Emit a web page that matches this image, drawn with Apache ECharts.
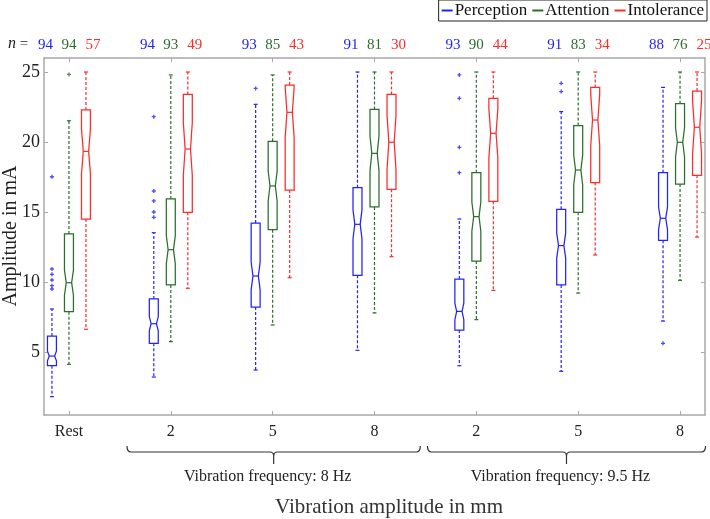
<!DOCTYPE html>
<html>
<head>
<meta charset="utf-8">
<script src="https://cdn.jsdelivr.net/npm/echarts@6/dist/echarts.min.js"></script>
<style>
  html, body { margin: 0; padding: 0; background: #fff; }
  #chart { width: 710px; height: 519px; }
</style>
</head>
<body>
<div id="chart"></div>
<script>
// category labels along the bottom
var groupLabels = ['Rest', '2', '5', '8', '2', '5', '8'];
var seriesNames = ['Perception', 'Attention', 'Intolerance'];
var yTicks = [5, 10, 15, 20, 25];

// Perception (blue)
var perceptionLow = [1.81, 3.21, 3.71, 5.12, 4.02, 3.62, 7.21];
var perceptionQ1 = [4.02, 5.62, 8.21, 10.48, 6.57, 9.79, 12.98];
var perceptionMedian = [4.71, 7.02, 10.43, 14.12, 7.90, 12.60, 14.55];
var perceptionQ3 = [6.14, 8.79, 14.21, 16.74, 10.21, 15.19, 17.81];
var perceptionHigh = [8.07, 13.52, 22.69, 25.0, 14.5, 22.17, 23.9];
var perceptionN = [94, 94, 93, 91, 93, 91, 88];
var perceptionOutliers = [
    [0, 9.5], [0, 9.74], [0, 10.14], [0, 10.55], [0, 10.93], [0, 17.52],
    [1, 14.62], [1, 15.0], [1, 15.79], [1, 16.5], [1, 21.81],
    [2, 23.83],
    [4, 17.81], [4, 19.62], [4, 23.12], [4, 24.79],
    [5, 23.6], [5, 24.19],
    [6, 5.62]
];

// Attention (green)
var attentionLow = [4.12, 5.74, 6.93, 7.79, 7.31, 9.21, 10.12];
var attentionQ1 = [7.88, 9.79, 13.74, 15.36, 11.5, 14.98, 17.0];
var attentionMedian = [9.95, 12.31, 16.86, 19.19, 14.67, 18.0, 19.98];
var attentionQ3 = [13.43, 15.93, 20.05, 22.33, 17.81, 21.17, 22.74];
var attentionHigh = [21.52, 24.79, 24.79, 25.0, 25.0, 25.0, 25.0];
var attentionN = [94, 93, 85, 81, 90, 83, 76];
var attentionOutliers = [[0, 24.83]];

// Intolerance (red)
var intoleranceLow = [6.62, 9.55, 10.31, 11.81, 9.4, 11.93, 13.21];
var intoleranceQ1 = [14.5, 14.98, 16.57, 16.62, 15.76, 17.1, 17.62];
var intoleranceMedian = [19.33, 19.5, 22.12, 19.98, 20.62, 21.57, 21.05];
var intoleranceQ3 = [22.29, 23.4, 24.07, 23.4, 23.12, 23.9, 23.64];
var intoleranceHigh = [25, 25, 25, 25, 25, 25, 25];
var intoleranceN = [57, 49, 43, 30, 44, 34, 25];
var intoleranceOutliers = [];

// brace groups under the axis
var braceStart = [0.57, 3.52];
var braceEnd = [3.45, 6.25];
var braceLabels = ['Vibration frequency: 8 Hz', 'Vibration frequency: 9.5 Hz'];

var colors = ['#2222ff', '#2b6e2b', '#ff2a2a'];
var boxOffset = [-0.167, 0, 0.167];
var labelOffset = [-0.23, 0, 0.235];
var BOX_HALF = 0.044;
var SERIF = '"Liberation Serif", "DejaVu Serif", serif';
var AXIS_GREY = '#a8a8a8';

var chart = echarts.init(document.getElementById('chart'));

function buildRows(low, q1, med, q3, high, n) {
    var rows = [];
    for (var i = 0; i < groupLabels.length; i++) {
        rows.push([i, low[i], q1[i], med[i], q3[i], high[i], n[i]]);
    }
    return rows;
}

function boxRenderer(k) {
    return function (params, api) {
        var g = api.value(0),
            x = g + boxOffset[k],
            low = api.value(1), q1 = api.value(2), med = api.value(3),
            q3 = api.value(4), high = api.value(5), n = api.value(6),
            notch = 1.57 * (q3 - q1) / Math.sqrt(n),
            c = colors[k];

        var L = api.coord([x - BOX_HALF, med])[0],
            R = api.coord([x + BOX_HALF, med])[0],
            cx = api.coord([x, med])[0],
            inset = (R - L) * 0.2,
            y = function (v) { return api.coord([x, v])[1]; };

        var solid = { stroke: c, lineWidth: 1.25, fill: null };
        var dashed = { stroke: c, lineWidth: 1.2, lineDash: [3, 2] };
        var cap = { stroke: c, lineWidth: 1.2 };

        var box = [
            [L, y(q1)], [L, y(med - notch)], [L + inset, y(med)], [L, y(med + notch)], [L, y(q3)],
            [R, y(q3)], [R, y(med + notch)], [R - inset, y(med)], [R, y(med - notch)], [R, y(q1)]
        ];

        var children = [
            { type: 'line', shape: { x1: cx, y1: y(q1), x2: cx, y2: y(low) }, style: dashed },
            { type: 'line', shape: { x1: cx, y1: y(q3), x2: cx, y2: y(high) }, style: dashed },
            { type: 'line', shape: { x1: cx - 2, y1: y(low), x2: cx + 2, y2: y(low) }, style: cap },
            { type: 'line', shape: { x1: cx - 2, y1: y(high), x2: cx + 2, y2: y(high) }, style: cap },
            { type: 'polygon', shape: { points: box }, style: solid },
            { type: 'line', shape: { x1: L + inset, y1: y(med), x2: R - inset, y2: y(med) }, style: cap },
            {
                type: 'text',
                style: {
                    text: String(n),
                    x: api.coord([g + labelOffset[k], med])[0],
                    y: params.coordSys.y - 13,
                    align: 'center', verticalAlign: 'middle',
                    fill: c, font: '15px ' + SERIF
                }
            }
        ];
        return { type: 'group', children: children };
    };
}

function outlierPoints(list, k) {
    return list.map(function (p) { return [p[0] + boxOffset[k], p[1]]; });
}

function braceRenderer(params, api) {
    var i = api.value(2),
        x0 = api.coord([api.value(0), 0])[0],
        x1 = api.coord([api.value(1), 0])[0],
        m = (x0 + x1) / 2,
        b = params.coordSys.y + params.coordSys.height + 37;
    var d = 'M' + x0 + ' ' + (b - 6) + ' Q' + x0 + ' ' + b + ' ' + (x0 + 4) + ' ' + b +
        ' L' + (m - 4) + ' ' + b + ' Q' + m + ' ' + b + ' ' + m + ' ' + (b + 4) +
        ' L' + m + ' ' + (b + 12) +
        ' M' + m + ' ' + (b + 4) + ' Q' + m + ' ' + b + ' ' + (m + 4) + ' ' + b +
        ' L' + (x1 - 4) + ' ' + b + ' Q' + x1 + ' ' + b + ' ' + x1 + ' ' + (b - 6);
    return {
        type: 'group',
        children: [
            { type: 'path', shape: { pathData: d }, style: { stroke: '#333', lineWidth: 1.2, fill: null } },
            {
                type: 'text',
                style: {
                    text: braceLabels[i], x: m - 6, y: b + 25,
                    align: 'center', verticalAlign: 'middle',
                    fill: '#222', font: '16px ' + SERIF
                }
            }
        ]
    };
}

var boxData = [
    buildRows(perceptionLow, perceptionQ1, perceptionMedian, perceptionQ3, perceptionHigh, perceptionN),
    buildRows(attentionLow, attentionQ1, attentionMedian, attentionQ3, attentionHigh, attentionN),
    buildRows(intoleranceLow, intoleranceQ1, intoleranceMedian, intoleranceQ3, intoleranceHigh, intoleranceN)
];
var outlierData = [perceptionOutliers, attentionOutliers, intoleranceOutliers];

var series = [];
for (var k = 0; k < 3; k++) {
    series.push({
        name: seriesNames[k],
        type: 'custom',
        color: colors[k],
        renderItem: boxRenderer(k),
        encode: { x: 0, y: [1, 2, 3, 4, 5] },
        data: boxData[k],
        z: 3
    });
    series.push({
        name: seriesNames[k],
        type: 'scatter',
        color: colors[k],
        symbol: 'path://M-1,-3H1V-1H3V1H1V3H-1V1H-3V-1H-1Z',
        symbolSize: 4,
        data: outlierPoints(outlierData[k], k),
        z: 4
    });
}
series.push({
    type: 'custom',
    renderItem: braceRenderer,
    encode: { x: [0, 1] },
    data: braceStart.map(function (s, i) { return [s, braceEnd[i], i]; }),
    silent: true
});

var xTickVals = groupLabels.map(function (l, i) { return i; });

var option = {
    animation: false,
    backgroundColor: '#fff',
    grid: { left: 44, right: 5, top: 58, bottom: 104, outerBoundsMode: 'none' },
    legend: {
        data: seriesNames.map(function (n) { return { name: n, icon: 'rect' }; }),
        right: 3, top: 0,
        itemWidth: 11, itemHeight: 2, itemGap: 5,
        padding: [2, 3],
        borderColor: '#222', borderWidth: 1,
        textStyle: { fontFamily: SERIF, fontSize: 17, color: '#111', padding: [0, 0, 0, -3] },
        selectedMode: false
    },
    xAxis: [{
        type: 'value', min: -0.245, max: 6.245,
        axisLine: { onZero: false, lineStyle: { color: AXIS_GREY, width: 1.5 } },
        axisTick: { inside: true, length: 4, customValues: xTickVals, lineStyle: { color: AXIS_GREY } },
        axisLabel: {
            customValues: xTickVals, margin: 9,
            formatter: function (v) { return groupLabels[v]; },
            fontFamily: SERIF, fontSize: 16, color: '#222'
        },
        splitLine: { show: false }
    }, {
        type: 'value', min: -0.245, max: 6.245, position: 'top',
        axisLine: { onZero: false, lineStyle: { color: AXIS_GREY, width: 1.5 } },
        axisTick: { inside: true, length: 4, customValues: xTickVals, lineStyle: { color: AXIS_GREY } },
        axisLabel: { show: false },
        splitLine: { show: false }
    }],
    yAxis: [{
        type: 'value', min: 0.5, max: 26,
        axisLine: { onZero: false, lineStyle: { color: AXIS_GREY, width: 1.5 } },
        axisTick: { inside: true, length: 4, customValues: yTicks, lineStyle: { color: AXIS_GREY } },
        axisLabel: { customValues: yTicks, margin: 4, fontFamily: SERIF, fontSize: 18, color: '#222' },
        splitLine: { show: false }
    }, {
        type: 'value', min: 0.5, max: 26, position: 'right',
        axisLine: { onZero: false, lineStyle: { color: AXIS_GREY, width: 1.5 } },
        axisTick: { inside: true, length: 4, customValues: yTicks, lineStyle: { color: AXIS_GREY } },
        axisLabel: { show: false },
        splitLine: { show: false }
    }],
    graphic: [{
        type: 'text', left: 8, top: 36,
        style: {
            text: '{i|n} =', fill: '#222', font: '15px ' + SERIF,
            rich: { i: { fontStyle: 'italic', fontFamily: SERIF, fontSize: 16 } }
        }
    }, {
        type: 'text', x: 11, y: 236, rotation: Math.PI / 2,
        style: {
            text: 'Amplitude in mA', align: 'center', verticalAlign: 'middle',
            fill: '#222', font: '20px ' + SERIF
        }
    }, {
        type: 'text', x: 389, y: 507,
        style: {
            text: 'Vibration amplitude in mm', align: 'center', verticalAlign: 'middle',
            fill: '#333', font: '21px ' + SERIF
        }
    }],
    series: series
};

chart.setOption(option);
</script>
</body>
</html>
